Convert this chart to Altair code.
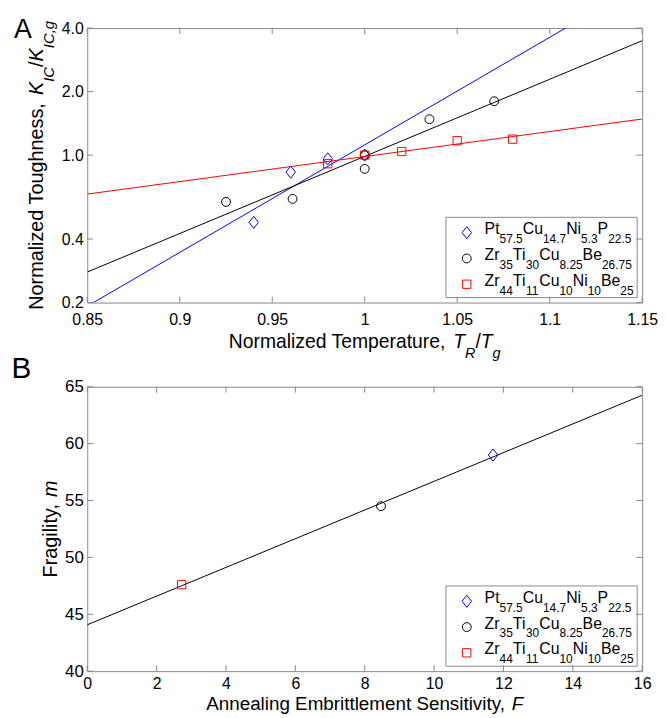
import altair as alt
import pandas as pd

FONT = "Liberation Sans"
FRAME = "#888888"

# ---------------- data ----------------
series_colors = ["#0000ff", "#000000", "#ff0000"]
DIAMOND = "M0,-1L0.78,0L0,1L-0.78,0Z"
series_shapes = [DIAMOND, "circle", "square"]
series_sizes = [150, 80, 70]

# Panel A: normalized toughness vs normalized temperature
pt_tr = [0.94, 0.96, 0.98, 1.00]
pt_k = [0.48, 0.83, 0.96, 1.00]
zr35_tr = [0.925, 0.961, 1.0, 1.0, 1.035, 1.07]
zr35_k = [0.60, 0.62, 0.86, 1.0, 1.48, 1.80]
zr44_tr = [0.98, 1.0, 1.02, 1.05, 1.08]
zr44_k = [0.91, 1.0, 1.04, 1.17, 1.19]

# Panel B: fragility vs annealing embrittlement sensitivity (Pt, Zr35, Zr44)
frag_F = [11.7, 8.47, 2.72]
frag_m = [59.0, 54.5, 47.6]

xticks_a = [0.85, 0.9, 0.95, 1.0, 1.05, 1.1, 1.15]
yticks_a = [0.2, 0.4, 1.0, 2.0, 4.0]
xticks_b = [0, 2, 4, 6, 8, 10, 12, 14, 16]
yticks_b = [40, 45, 50, 55, 60, 65]

# rich text pieces: (text, style) n=normal, i=italic, s=subscript, si=italic subscript
legend_pieces = [
    [("Pt", "n"), ("57.5", "s"), ("Cu", "n"), ("14.7", "s"), ("Ni", "n"), ("5.3", "s"), ("P", "n"), ("22.5", "s")],
    [("Zr", "n"), ("35", "s"), ("Ti", "n"), ("30", "s"), ("Cu", "n"), ("8.25", "s"), ("Be", "n"), ("26.75", "s")],
    [("Zr", "n"), ("44", "s"), ("Ti", "n"), ("11", "s"), ("Cu", "n"), ("10", "s"), ("Ni", "n"), ("10", "s"), ("Be", "n"), ("25", "s")],
]
xtitle_a = [("Normalized Temperature, ", "n"), ("T", "i"), ("R", "si"), ("/", "n"), ("T", "i"), ("g", "si")]
ytitle_a = [("Normalized Toughness, ", "n"), ("K", "i"), ("IC", "si"), ("/", "n"), ("K", "i"), ("IC,g", "si")]
xtitle_b = [("Annealing Embrittlement Sensitivity, ", "n"), ("F", "i")]
ytitle_b = [("Fragility, ", "n"), ("m", "i")]

# ---------------- helpers ----------------
W_TABLE = {' ': 278, ',': 278, '.': 278, '/': 278,
           'A': 667, 'B': 667, 'C': 722, 'E': 667, 'F': 611, 'I': 278, 'K': 667, 'N': 722,
           'P': 667, 'R': 722, 'S': 667, 'T': 611, 'Z': 611,
           'a': 556, 'b': 556, 'c': 500, 'd': 556, 'e': 556, 'f': 278, 'g': 556, 'h': 556,
           'i': 222, 'j': 222, 'k': 500, 'l': 222, 'm': 833, 'n': 556, 'o': 556, 'p': 556,
           'q': 556, 'r': 333, 's': 500, 't': 278, 'u': 556, 'v': 500, 'w': 722, 'x': 500,
           'y': 500, 'z': 500}


def tw(s, fs):
    return sum(W_TABLE.get(c, 556) for c in s) / 1000.0 * fs


def layout(pieces, fs, sfs, sdy, base, center=None, start=None, vertical=False):
    widths = [tw(t, sfs if st.startswith("s") else fs) for t, st in pieces]
    total = sum(widths)
    if start is None:
        start = center + total / 2 if vertical else center - total / 2
    rows = []
    pos = start
    for (t, st), w in zip(pieces, widths):
        sub = st.startswith("s")
        size = sfs if sub else fs
        ital = st.endswith("i")
        off = sdy if sub else 0
        if vertical:
            rows.append(dict(px=base + off, py=pos, t=t, fs=size, ang=270, it=ital))
            pos -= w
        else:
            rows.append(dict(px=pos, py=base + off, t=t, fs=size, ang=0, it=ital))
            pos += w
    return rows


def text_layers(rows):
    df = pd.DataFrame(rows)
    out = []
    for ital in (False, True):
        sub = df[df["it"] == ital].drop(columns=["it"])
        if len(sub) == 0:
            continue
        out.append(
            alt.Chart(sub).mark_text(font=FONT, align="left", baseline="alphabetic",
                                     fontStyle="italic" if ital else "normal", color="black")
            .encode(x=alt.X("px:Q", scale=None, axis=None),
                    y=alt.Y("py:Q", scale=None, axis=None),
                    text="t:N",
                    size=alt.Size("fs:Q", scale=None, legend=None),
                    angle=alt.Angle("ang:Q", scale=None))
        )
    return out


one = pd.DataFrame({"z": [0]})


def legend_layers(box, sym_x, sym_ys, text_x):
    layers = [alt.Chart(one).mark_rect(fill="white", stroke=FRAME, strokeWidth=1).encode(
        x=alt.value(box[0]), x2=alt.value(box[1]), y=alt.value(box[2]), y2=alt.value(box[3]))]
    for j in range(3):
        layers.append(alt.Chart(one).mark_point(shape=series_shapes[j], size=series_sizes[j], filled=False,
                                                strokeWidth=1, color=series_colors[j], opacity=1)
                      .encode(x=alt.value(sym_x), y=alt.value(sym_ys[j])))
    rows = []
    for j, pieces in enumerate(legend_pieces):
        rows += layout(pieces, 16, 12, 9, base=sym_ys[j] + 1.5, start=text_x)
    return layers, rows


def tick_layers(xticks, yticks, xs, ys, W, H, L=6):
    dx = pd.DataFrame({"v": xticks})
    dy = pd.DataFrame({"v": yticks})
    base = dict(color=FRAME, strokeWidth=1)
    return [
        alt.Chart(dx).mark_rule(**base).encode(x=xs("v"), y=alt.value(H), y2=alt.value(H - L)),
        alt.Chart(dx).mark_rule(**base).encode(x=xs("v"), y=alt.value(0), y2=alt.value(L)),
        alt.Chart(dy).mark_rule(**base).encode(y=ys("v"), x=alt.value(0), x2=alt.value(L)),
        alt.Chart(dy).mark_rule(**base).encode(y=ys("v"), x=alt.value(W), x2=alt.value(W - L)),
    ]


# ---------------- panel A ----------------
WA, HA = 560, 277
scale_xa = alt.Scale(domain=[0.85, 1.15], nice=False, zero=False)
scale_ya = alt.Scale(type="log", domain=[0.2, 4.0], nice=False)
axis_xa = alt.Axis(values=xticks_a, format="~g", ticks=False, tickSize=0, domain=False, grid=False,
                   labelPadding=9.5, labelFontSize=16, labelFlush=False, labelOverlap=False, title=None)
axis_ya = alt.Axis(values=yticks_a, format=".1f", ticks=False, tickSize=0, domain=False, grid=False,
                   labelPadding=4, labelFontSize=16, labelOverlap=False, title=None)


def xa(f):
    return alt.X(f, type="quantitative", scale=scale_xa, axis=axis_xa)


def ya(f):
    return alt.Y(f, type="quantitative", scale=scale_ya, axis=axis_ya)


series_a = [(pt_tr, pt_k), (zr35_tr, zr35_k), (zr44_tr, zr44_k)]
layers_a = []
for j, (trs, ks) in enumerate(series_a):
    d = pd.DataFrame({"tr": trs, "k": ks})
    layers_a.append(
        alt.Chart(d).transform_calculate(lk="log(datum.k)/LN10")
        .transform_regression("tr", "lk", extent=[0.85, 1.15])
        .transform_calculate(k="pow(10, datum.lk)")
        .mark_line(clip=True, color=series_colors[j], strokeWidth=1)
        .encode(x=xa("tr"), y=ya("k"))
    )
for j, (trs, ks) in enumerate(series_a):
    d = pd.DataFrame({"tr": trs, "k": ks})
    layers_a.append(
        alt.Chart(d).mark_point(shape=series_shapes[j], size=series_sizes[j], filled=False,
                                strokeWidth=1, color=series_colors[j], opacity=1)
        .encode(x=xa("tr"), y=ya("k"))
    )
leg_a, leg_rows_a = legend_layers((362, 555, 191, 272), 383, [206.5, 232.5, 258.5], 401)
layers_a += leg_a
layers_a += tick_layers(xticks_a, yticks_a, xa, ya, WA, HA)
rows_a = []
rows_a += layout(xtitle_a, 19.5, 14.5, 10.5, base=322.5, center=WA / 2)
rows_a += layout(ytitle_a, 20, 15, 11, base=-45, center=HA / 2, vertical=True)
rows_a.append(dict(px=-74, py=10, t="A", fs=27, ang=0, it=False))
rows_a.append(dict(px=-76.5, py=10, t=" ", fs=27, ang=0, it=False))
rows_a += leg_rows_a
layers_a += text_layers(rows_a)
chart_a = alt.layer(*layers_a).properties(width=WA, height=HA)

# ---------------- panel B ----------------
WB, HB = 560, 287
scale_xb = alt.Scale(domain=[0, 16], nice=False, zero=False)
scale_yb = alt.Scale(domain=[40, 65], nice=False, zero=False)
axis_xb = alt.Axis(values=xticks_b, format="d", ticks=False, tickSize=0, domain=False, grid=False,
                   labelPadding=4, labelFontSize=16, labelFlush=False, labelOverlap=False, title=None)
axis_yb = alt.Axis(values=yticks_b, format="d", ticks=False, tickSize=0, domain=False, grid=False,
                   labelPadding=4, labelFontSize=17, labelOverlap=False, title=None)


def xb(f):
    return alt.X(f, type="quantitative", scale=scale_xb, axis=axis_xb)


def yb(f):
    return alt.Y(f, type="quantitative", scale=scale_yb, axis=axis_yb)


df_b = pd.DataFrame({"F": frag_F, "m": frag_m, "s": [0, 1, 2]})
layers_b = [
    alt.Chart(df_b).transform_regression("F", "m", extent=[0, 16])
    .mark_line(clip=True, color="black", strokeWidth=1)
    .encode(x=xb("F"), y=yb("m"))
]
for j in range(3):
    layers_b.append(
        alt.Chart(df_b[df_b["s"] == j]).mark_point(shape=series_shapes[j], size=series_sizes[j], filled=False,
                                                   strokeWidth=1, color=series_colors[j], opacity=1)
        .encode(x=xb("F"), y=yb("m"))
    )
leg_b, leg_rows_b = legend_layers((362, 555, 201, 282), 383, [216.5, 242.5, 268.5], 401)
layers_b += leg_b
layers_b += tick_layers(xticks_b, yticks_b, xb, yb, WB, HB)
rows_b = []
rows_b += layout(xtitle_b, 19, 14, 10, base=326, center=WB / 2)
rows_b += layout(ytitle_b, 20, 15, 11, base=-31, center=HB / 2, vertical=True)
rows_b.append(dict(px=-76.5, py=-8.7, t="B", fs=30, ang=0, it=False))
rows_b += leg_rows_b
layers_b += text_layers(rows_b)
chart_b = alt.layer(*layers_b).properties(width=WB, height=HB)

chart = (
    alt.vconcat(chart_a, chart_b, spacing=-8)
    .properties(padding={"left": 3, "top": 4, "right": 0, "bottom": 0})
    .configure_view(stroke=FRAME, strokeWidth=1)
    .configure_axis(labelFont=FONT, labelFontSize=17, labelColor="black")
)

chart.save("out.html", embed_options={"renderer": "svg", "actions": False})
